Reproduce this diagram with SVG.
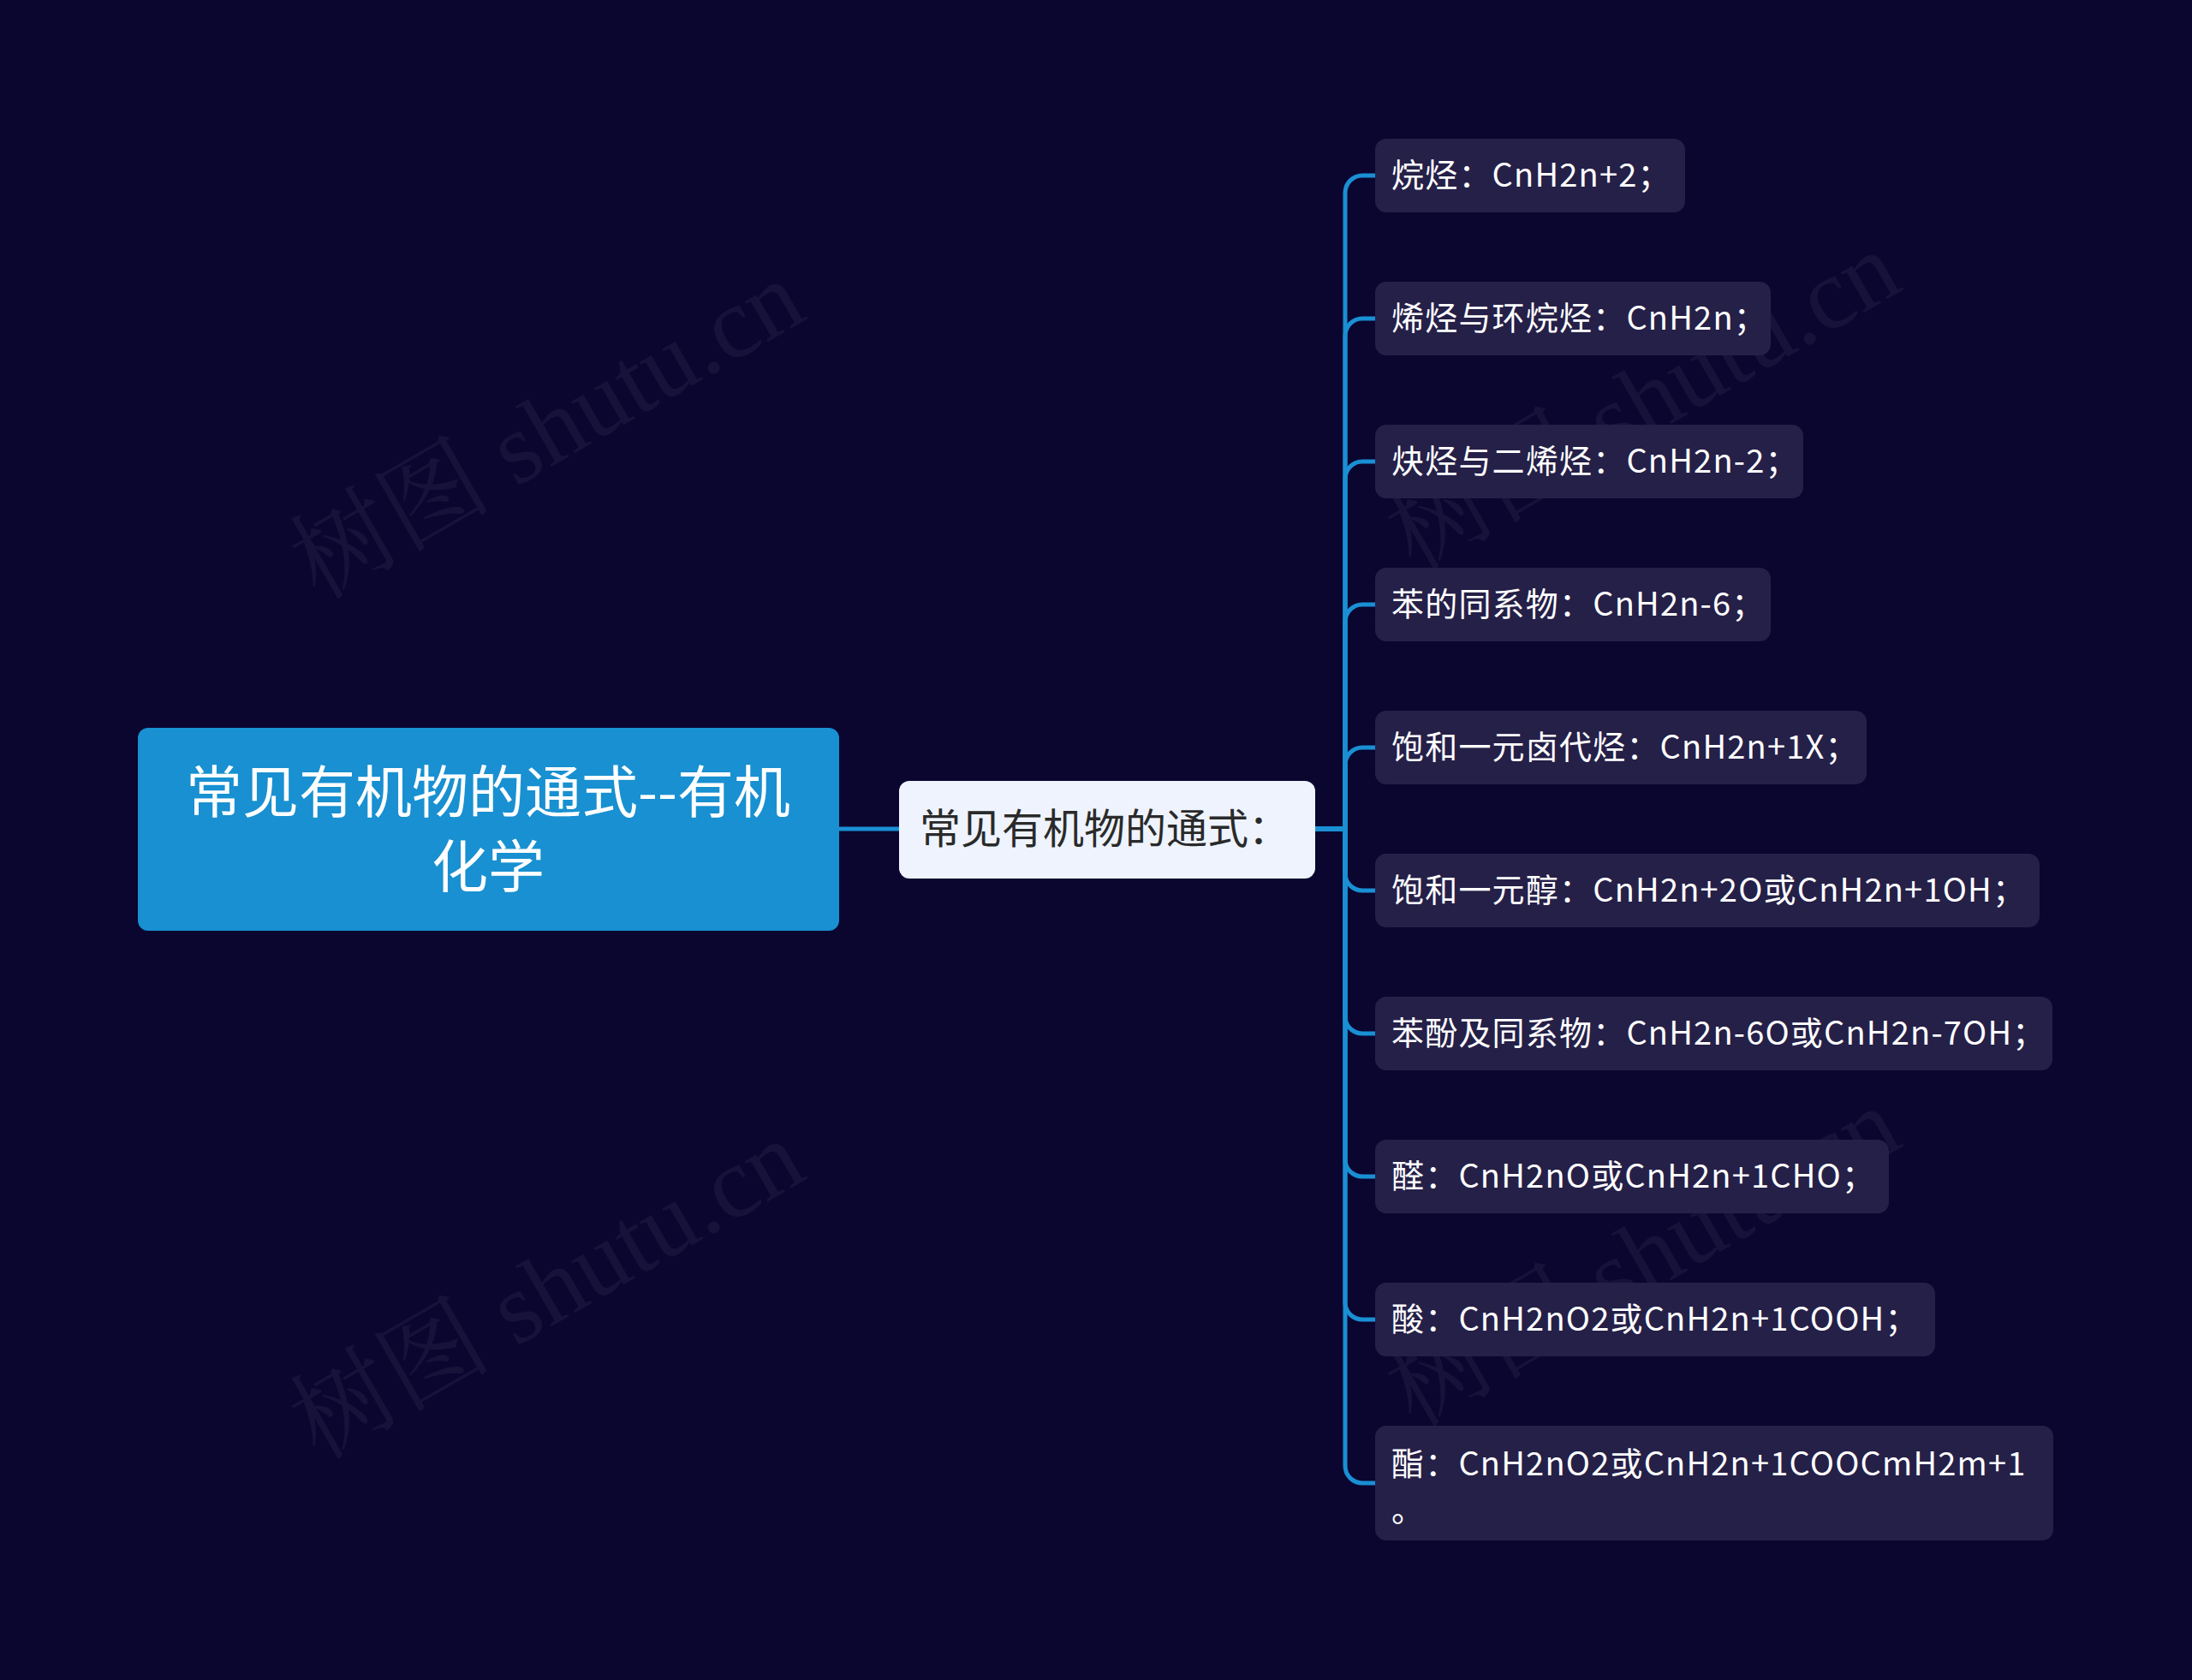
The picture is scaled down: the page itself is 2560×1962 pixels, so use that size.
<svg xmlns="http://www.w3.org/2000/svg" width="2560" height="1962" viewBox="0 0 2560 1962">
<style>
.bg{fill:#0a0630}
.wm{font-family:"Liberation Serif","Noto Serif CJK SC","Noto Sans CJK SC",serif;font-size:118px;fill:#ffffff;fill-opacity:0.05}
.root rect{fill:#1890d1}
.root text{font-family:"Noto Sans CJK SC",sans-serif;font-size:66px;fill:#ffffff;text-anchor:middle}
.sub rect{fill:#eef3fd}
.sub text{font-family:"Noto Sans CJK SC",sans-serif;font-size:48px;fill:#2a2a2a}
.leaf rect{fill:#252048}
.leaf text{font-family:"Noto Sans CJK SC",sans-serif;font-size:38px;fill:#ffffff;letter-spacing:1.2px}
.conn path{fill:none;stroke:#1a8fd4;stroke-width:5;stroke-linecap:round}
</style>
<rect class="bg" x="0" y="0" width="2560" height="1962"/>
<g id="watermarks">
<text class="wm" transform="translate(372,702) rotate(-30)">树图 shutu.cn</text>
<text class="wm" transform="translate(1652,668) rotate(-30)">树图 shutu.cn</text>
<text class="wm" transform="translate(372,1706) rotate(-30)">树图 shutu.cn</text>
<text class="wm" transform="translate(1652,1668) rotate(-30)">树图 shutu.cn</text>
</g>
<g id="connectors" class="conn">
<path d="M980,968 H1050"/>
<path d="M1536,968 H1571 V225 A20,20 0 0 1 1591,205 H1606"/>
<path d="M1536,968 H1571 V392 A20,20 0 0 1 1591,372 H1606"/>
<path d="M1536,968 H1571 V559 A20,20 0 0 1 1591,539 H1606"/>
<path d="M1536,968 H1571 V726 A20,20 0 0 1 1591,706 H1606"/>
<path d="M1536,968 H1571 V893 A20,20 0 0 1 1591,873 H1606"/>
<path d="M1536,968 H1571 V1020 A20,20 0 0 0 1591,1040 H1606"/>
<path d="M1536,968 H1571 V1187 A20,20 0 0 0 1591,1207 H1606"/>
<path d="M1536,968 H1571 V1354 A20,20 0 0 0 1591,1374 H1606"/>
<path d="M1536,968 H1571 V1521 A20,20 0 0 0 1591,1541 H1606"/>
<path d="M1536,968 H1571 V1712 A20,20 0 0 0 1591,1732 H1606"/>
</g>
<g id="root" class="root">
<rect x="161" y="850" width="819" height="237" rx="12"/>
<text x="570" y="949">常见有机物的通式--有机</text>
<text x="570" y="1036">化学</text>
</g>
<g id="sub" class="sub">
<rect x="1050" y="912" width="486" height="114" rx="12"/>
<text x="1074" y="985">常见有机物的通式：</text>
</g>
<g id="n1" class="leaf"><rect x="1606" y="162" width="362" height="86" rx="13"/><text x="1625" y="218">烷烃：CnH2n+2；</text></g>
<g id="n2" class="leaf"><rect x="1606" y="329" width="462" height="86" rx="13"/><text x="1625" y="385">烯烃与环烷烃：CnH2n；</text></g>
<g id="n3" class="leaf"><rect x="1606" y="496" width="500" height="86" rx="13"/><text x="1625" y="552">炔烃与二烯烃：CnH2n-2；</text></g>
<g id="n4" class="leaf"><rect x="1606" y="663" width="462" height="86" rx="13"/><text x="1625" y="719">苯的同系物：CnH2n-6；</text></g>
<g id="n5" class="leaf"><rect x="1606" y="830" width="574" height="86" rx="13"/><text x="1625" y="886">饱和一元卤代烃：CnH2n+1X；</text></g>
<g id="n6" class="leaf"><rect x="1606" y="997" width="776" height="86" rx="13"/><text x="1625" y="1053">饱和一元醇：CnH2n+2O或CnH2n+1OH；</text></g>
<g id="n7" class="leaf"><rect x="1606" y="1164" width="791" height="86" rx="13"/><text x="1625" y="1220">苯酚及同系物：CnH2n-6O或CnH2n-7OH；</text></g>
<g id="n8" class="leaf"><rect x="1606" y="1331" width="600" height="86" rx="13"/><text x="1625" y="1387">醛：CnH2nO或CnH2n+1CHO；</text></g>
<g id="n9" class="leaf"><rect x="1606" y="1498" width="654" height="86" rx="13"/><text x="1625" y="1554">酸：CnH2nO2或CnH2n+1COOH；</text></g>
<g id="n10" class="leaf"><rect x="1606" y="1665" width="792" height="134" rx="13"/><text x="1625" y="1723">酯：CnH2nO2或CnH2n+1COOCmH2m+1</text><text x="1625" y="1777">。</text></g>
</svg>
